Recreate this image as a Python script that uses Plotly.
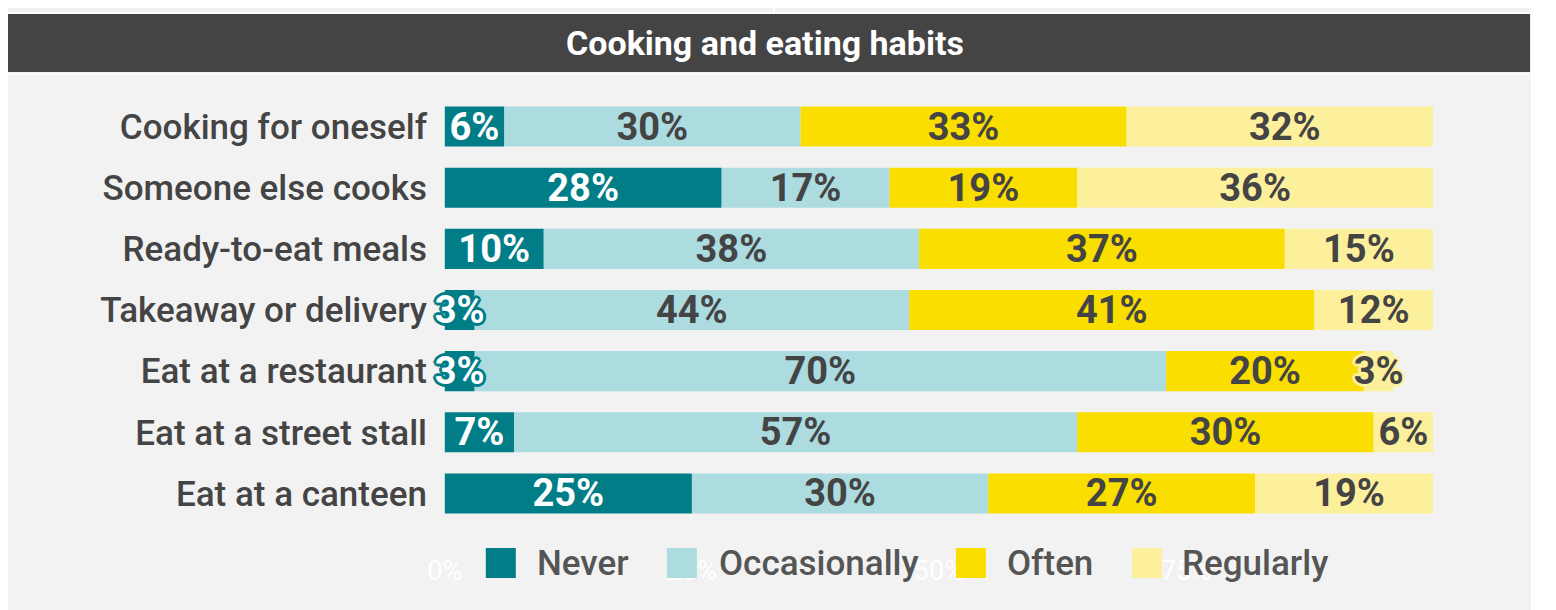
import numpy as np
import plotly.graph_objects as go

# ---------------- data ----------------
categories = [
    "Cooking for oneself",
    "Someone else cooks",
    "Ready-to-eat meals",
    "Takeaway or delivery",
    "Eat at a restaurant",
    "Eat at a street stall",
    "Eat at a canteen",
]
series_names = ["Never", "Occasionally", "Often", "Regularly"]
never = [6, 28, 10, 3, 3, 7, 25]
occasionally = [30, 17, 38, 44, 70, 57, 30]
often = [33, 19, 37, 41, 20, 30, 27]
regularly = [32, 36, 15, 12, 3, 6, 19]
tick_values = [0, 25, 50, 75]
tick_labels = ["0%", "25%", "50%", "75%"]
title_text = "Cooking and eating habits"

# ---------------- styles ----------------
bar_colors = ["#007d87", "#acdbe0", "#f9de00", "#fdf09c"]
text_colors = ["#ffffff", "#444444", "#444444", "#444444"]
FONT = "Roboto"

# the page puts the figure 8px from the top-left corner
OFF = 8
X0_PX, X100_PX = 445, 1433          # where 0% and 100% sit on the page
XMIN = -1.7                          # a little room left of 0 for the small labels
SCALE = (X100_PX - X0_PX) / 100.0
W, H = 1556 - OFF, 610 - OFF
L = X0_PX + XMIN * SCALE - OFF
R = X100_PX - OFF
T, B = 96 - OFF, 524 - OFF


def px(x):
    """reference page pixel x -> paper coordinate"""
    return (x - OFF - L) / (R - L)


def py(y):
    """reference page pixel y -> paper coordinate"""
    return (B - (y - OFF)) / (B - T)


def halo(c, r=3):
    offs = [(r, 0), (-r, 0), (0, r), (0, -r), (r - 1, r - 1), (-(r - 1), r - 1),
            (r - 1, -(r - 1)), (-(r - 1), -(r - 1))]
    return ", ".join(f"{dx}px {dy}px 0 {c}" for dx, dy in offs)


series = [never, occasionally, often, regularly]
arr = np.array(series, dtype=float)
bases = np.vstack([np.zeros(arr.shape[1]), np.cumsum(arr, axis=0)[:-1]])

fig = go.Figure()
# draw order: labels of 'Never' must sit over 'Occasionally'
for i in [1, 2, 3, 0]:
    fig.add_trace(go.Bar(
        name=series_names[i],
        y=categories,
        x=series[i],
        base=bases[i],
        orientation="h",
        marker=dict(color=bar_colors[i], line=dict(width=0)),
        text=[f"{v}%" for v in series[i]],
        textposition="inside",
        insidetextanchor="middle",
        constraintext="none",
        textangle=0,
        textfont=dict(family=FONT, size=38, weight=700, color=text_colors[i],
                      shadow=halo(bar_colors[i])),
        showlegend=False,
        hoverinfo="skip",
    ))

shapes = [
    # panel background
    dict(type="rect", xref="paper", yref="paper", x0=px(0), x1=px(1531),
         y0=py(610), y1=py(0), fillcolor="#f2f2f2", line=dict(width=0), layer="below"),
    # thin white separators at the top
    dict(type="line", xref="paper", yref="paper", x0=px(0), x1=px(1531),
         y0=py(13), y1=py(13), line=dict(color="#ffffff", width=1.5), layer="below"),
    dict(type="line", xref="paper", yref="paper", x0=px(774), x1=px(774),
         y0=py(0), y1=py(13), line=dict(color="#ffffff", width=2), layer="below"),
    # title bar
    dict(type="rect", xref="paper", yref="paper", x0=px(0), x1=px(1530),
         y0=py(72), y1=py(14), fillcolor="#444444", line=dict(width=0), layer="below"),
    dict(type="line", xref="paper", yref="paper", x0=px(0), x1=px(1530),
         y0=py(74), y1=py(74), line=dict(color="#fafafa", width=2), layer="below"),
]

annotations = [
    dict(text=title_text, xref="paper", yref="paper", x=px(765), y=py(43),
         xanchor="center", yanchor="middle", showarrow=False,
         font=dict(family=FONT, size=34, weight=700, color="#ffffff")),
]

# manual legend (large swatches)
legend_sq_x = [486, 667, 956, 1132]
legend_tx_x = [536, 718, 1006, 1181]
for i, name in enumerate(series_names):
    shapes.append(dict(type="rect", xref="paper", yref="paper",
                       x0=px(legend_sq_x[i]), x1=px(legend_sq_x[i] + 30),
                       y0=py(578), y1=py(548), fillcolor=bar_colors[i],
                       line=dict(width=0), layer="above"))
    annotations.append(dict(text=name, xref="paper", yref="paper",
                            x=px(legend_tx_x[i]), y=py(563), xanchor="left",
                            yanchor="middle", showarrow=False, borderpad=0,
                            font=dict(family=FONT, size=35, weight=500, color="#555555")))

fig.update_layout(
    width=W, height=H,
    margin=dict(l=L, r=W - R, t=T, b=H - B, pad=0),
    paper_bgcolor="#ffffff",
    plot_bgcolor="rgba(0,0,0,0)",
    barmode="overlay",
    bargap=0.345,
    shapes=shapes,
    annotations=annotations,
    showlegend=False,
    xaxis=dict(range=[XMIN, 100], tickvals=tick_values, ticktext=tick_labels,
               showgrid=False, zeroline=False, showline=False, ticks="",
               tickfont=dict(family=FONT, size=27, color="#ffffff"),
               ticklabelstandoff=28, automargin=False, fixedrange=True),
    yaxis=dict(type="category", categoryarray=categories, autorange="reversed",
               showgrid=False, zeroline=False, showline=False, ticks="",
               tickfont=dict(family=FONT, size=35, weight=500, color="#444444"),
               ticklabelstandoff=0, automargin=False, fixedrange=True),
)

fig.write_html("out.html")
